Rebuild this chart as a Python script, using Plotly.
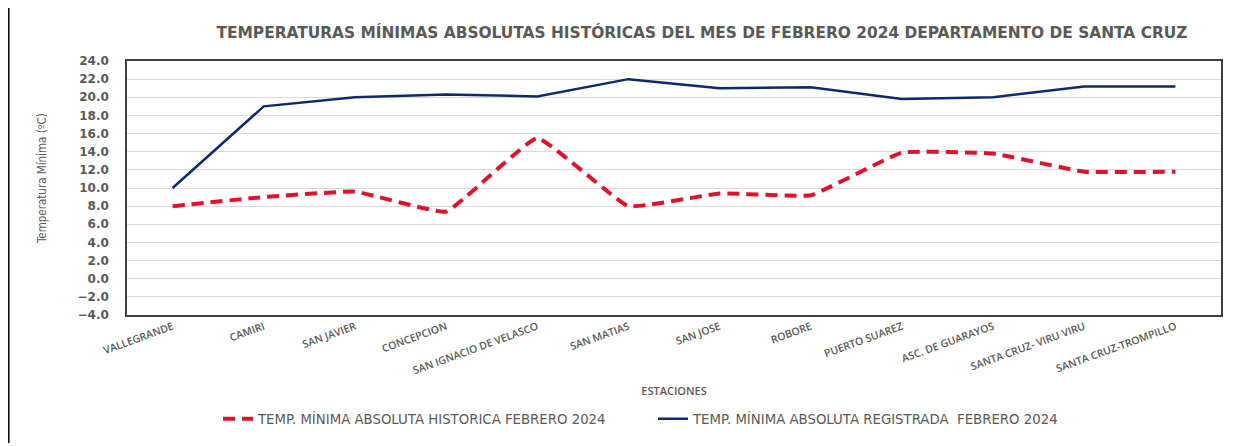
import plotly.graph_objects as go

estaciones = ["VALLEGRANDE", "CAMIRI", "SAN JAVIER", "CONCEPCION", "SAN IGNACIO DE VELASCO",
              "SAN MATIAS", "SAN JOSE", "ROBORE", "PUERTO SUAREZ", "ASC. DE GUARAYOS",
              "SANTA CRUZ- VIRU VIRU", "SANTA CRUZ-TROMPILLO"]
historica = [8.0, 9.0, 9.6, 7.4, 15.5, 8.0, 9.4, 9.2, 13.9, 13.8, 11.8, 11.8]
registrada = [10.0, 19.0, 20.0, 20.3, 20.1, 22.0, 21.0, 21.1, 19.8, 20.0, 21.2, 21.2]
y_ticks = [-4, -2, 0, 2, 4, 6, 8, 10, 12, 14, 16, 18, 20, 22, 24]

name_hist = "TEMP. MÍNIMA ABSOLUTA HISTORICA FEBRERO 2024"
name_reg = "TEMP. MÍNIMA ABSOLUTA REGISTRADA  FEBRERO 2024"

gray = "#595959"

fig = go.Figure()
fig.add_trace(go.Scatter(x=estaciones, y=historica, mode="lines", name=name_hist,
                         line=dict(color="#E0112B", width=4, dash="12px,7px", shape="spline", smoothing=0.3)))
fig.add_trace(go.Scatter(x=estaciones, y=registrada, mode="lines", name=name_reg,
                         line=dict(color="#0D2A6B", width=2.5)))

# page body has an 8px margin, so the figure is sized/offset to compensate
fig.update_layout(
    width=1243, height=438,
    margin=dict(l=119, r=30, t=53, b=129),
    paper_bgcolor="white", plot_bgcolor="white",
    title=dict(text="TEMPERATURAS MÍNIMAS ABSOLUTAS HISTÓRICAS DEL MES DE FEBRERO 2024 DEPARTAMENTO DE SANTA CRUZ",
               x=(702 - 8) / 1243, xanchor="center", y=1 - (33 - 8) / 438, yanchor="middle",
               font=dict(family="DejaVu Sans", size=15.4, color=gray, weight="bold")),
    font=dict(family="Open Sans", color=gray),
    legend=dict(orientation="h", x=(218 - 127) / 1094, xanchor="left", y=(317 - 422) / 256, yanchor="middle",
                font=dict(family="DejaVu Sans", size=13.3, color=gray),
                entrywidth=390, bgcolor="rgba(0,0,0,0)"),
    showlegend=True,
)
fig.update_xaxes(
    range=[-0.5, 11.5],
    showline=True, linecolor="#404040", linewidth=1.5, mirror=True,
    showgrid=False, tickangle=-20, automargin=False,
    tickfont=dict(family="Open Sans", size=10.5, color=gray, weight=600),
    title=dict(text="ESTACIONES", font=dict(family="Open Sans", size=11, color=gray, weight=600), standoff=11),
    ticks="",
)
fig.update_yaxes(
    range=[-4, 24], tickvals=y_ticks, tickformat=".1f",
    showline=True, linecolor="#404040", linewidth=1.5, mirror=True,
    showgrid=True, gridcolor="#D9D9D9", gridwidth=1.2, zeroline=False,
    tickfont=dict(family="DejaVu Sans", size=12, color=gray, weight="bold"),
    ticks="outside", ticklen=14, tickcolor="rgba(0,0,0,0)",
    automargin=False,
)
fig.add_annotation(text="Temperatura Mínima (ºC)", xref="paper", yref="paper",
                   x=(42 - 127) / 1094, y=(317 - 180) / 256, xanchor="center", yanchor="middle",
                   textangle=-90, showarrow=False,
                   font=dict(family="DejaVu Sans Condensed, Liberation Sans Narrow, sans-serif", size=11.5, color=gray))
fig.add_shape(type="line", xref="paper", yref="paper",
              x0=(8.8 - 127) / 1094, x1=(8.8 - 127) / 1094, y0=(317 - 446) / 256, y1=(317 - 7) / 256,
              line=dict(color="black", width=1.5))

fig.write_html("out.html")
